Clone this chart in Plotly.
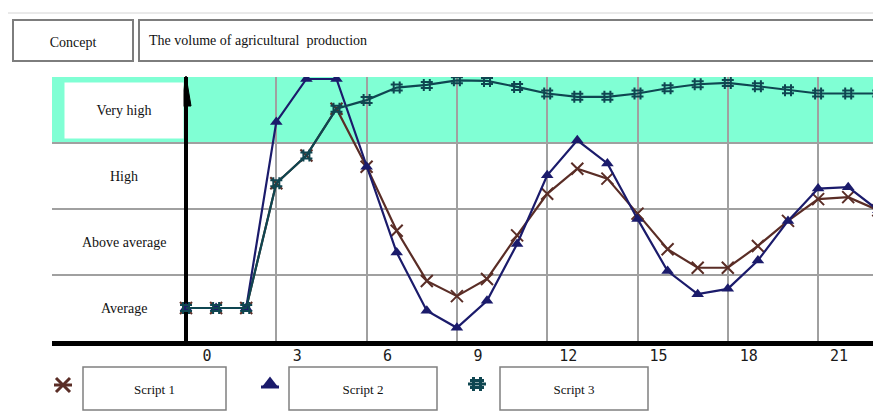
import plotly.graph_objects as go

# ---------------- data ----------------
steps = list(range(24))
script1 = [0.5, 0.5, 0.5, 2.39, 2.81, 3.52, 2.64, 1.67, 0.91, 0.68, 0.94, 1.60,
           2.23, 2.61, 2.46, 1.93, 1.39, 1.11, 1.11, 1.44, 1.82, 2.15, 2.18, 1.98]
script2 = [0.5, 0.5, 0.5, 3.32, 3.97, 3.97, 2.64, 1.34, 0.46, 0.20, 0.61, 1.47,
           2.51, 3.04, 2.69, 1.85, 1.06, 0.71, 0.79, 1.22, 1.82, 2.31, 2.33, 1.98]
script3 = [0.5, 0.5, 0.5, 2.39, 2.81, 3.52, 3.65, 3.84, 3.88, 3.95, 3.94, 3.85,
           3.75, 3.70, 3.70, 3.75, 3.83, 3.89, 3.91, 3.86, 3.80, 3.75, 3.75, 3.75]
x_ticks = [0, 3, 6, 9, 12, 15, 18, 21]
x_tick_labels = ["0", "3", "6", "9", "12", "15", "18", "21"]
levels = ["Average", "Above average", "High", "Very high"]
series_names = ["Script 1", "Script 2", "Script 3"]
concept_label = "Concept"
concept_text = "The volume of agricultural  production"

# ---------------- styling ----------------
OFF = 8                      # page body margin
W, H = 881 - OFF, 419 - OFF
C1 = "#5a2d26"
C2 = "#1b1b6b"
C3 = "#0f4651"
TEAL = "#80ffd4"
SERIF = "Liberation Serif, Times New Roman, serif"


def px(x):
    return (x - OFF) / W


def py(y):
    return 1 - (y - OFF) / H


fig = go.Figure()

specs = [
    (script1, C1, dict(symbol="x-thin-open", size=12, line=dict(width=2, color=C1))),
    (script2, C2, dict(symbol="triangle-up", size=11, line=dict(width=0))),
    (script3, C3, dict(symbol="hash-open", size=12, line=dict(width=2, color=C3))),
]
for name, (vals, col, mk) in zip(series_names, specs):
    fig.add_trace(go.Scatter(
        x=steps, y=vals, mode="lines+markers", name=name,
        line=dict(color=col, width=2.2), marker=dict(color=col, **mk),
        xaxis="x", yaxis="y", showlegend=False,
    ))

# legend keys on an overlay pixel axis
leg_x = [63, 270, 477]
leg_y = [385, 385, 384]
for i, (vals, col, mk) in enumerate(specs):
    fig.add_trace(go.Scatter(
        x=[leg_x[i] - 9, leg_x[i] + 9], y=[leg_y[i] + (2 if i == 1 else 0)] * 2,
        mode="lines", line=dict(color=col, width=3),
        xaxis="x2", yaxis="y2", showlegend=False, hoverinfo="skip",
    ))
    m = dict(color=col, **mk)
    m["size"] = m["size"] + 2
    if m["line"].get("width", 0) > 0:
        m["line"] = dict(width=3, color=col)
    fig.add_trace(go.Scatter(
        x=[leg_x[i]], y=[leg_y[i] - (2 if i == 1 else 0)], mode="markers", marker=m,
        xaxis="x2", yaxis="y2", showlegend=False, hoverinfo="skip",
    ))

shapes = []
# teal "Very high" band
shapes.append(dict(type="rect", xref="x", yref="y", x0=-10, x1=30, y0=3, y1=4,
                   fillcolor=TEAL, line=dict(width=0), layer="below"))
# outer frame
shapes.append(dict(type="line", xref="paper", yref="paper", x0=px(7), x1=px(890),
                   y0=py(13), y1=py(13), line=dict(color="#d4d4d4", width=1)))
shapes.append(dict(type="line", xref="paper", yref="paper", x0=px(7), x1=px(7),
                   y0=py(13), y1=py(430), line=dict(color="#d4d4d4", width=1)))
# header boxes
shapes.append(dict(type="rect", xref="paper", yref="paper", x0=px(13), x1=px(133),
                   y0=py(61), y1=py(20), line=dict(color="#7d7d7d", width=2),
                   fillcolor="white",
                   label=dict(text=concept_label, font=dict(family=SERIF, size=14, color="#111"),
                              textposition="middle center")))
shapes.append(dict(type="rect", xref="paper", yref="paper", x0=px(139), x1=px(895),
                   y0=py(61), y1=py(20), line=dict(color="#7d7d7d", width=2),
                   fillcolor="white"))
# legend boxes
box_x = [(83, 226), (289, 437), (500, 648)]
for (a, b), name in zip(box_x, series_names):
    shapes.append(dict(type="rect", xref="paper", yref="paper", x0=px(a), x1=px(b),
                       y0=py(410), y1=py(367), line=dict(color="#808080", width=1.5),
                       fillcolor="white",
                       label=dict(text=name, font=dict(family=SERIF, size=13, color="#111"),
                                  textposition="middle center")))
# y-axis arrow head
ax0 = 186
shapes.append(dict(type="path", xref="paper", yref="paper",
                   path=f"M {px(ax0-5)} {py(106)} L {px(ax0)} {py(76)} L {px(ax0+5)} {py(106)} Z",
                   fillcolor="black", line=dict(color="black", width=1), layer="above"))

annotations = []
annotations.append(dict(xref="paper", yref="paper", x=px(147), y=py(40), xanchor="left",
                        yanchor="middle", text=concept_text, showarrow=False,
                        font=dict(family=SERIF, size=14, color="#111")))
for i, lab in enumerate(levels):
    a = dict(xref="x", yref="y", x=(124 - 186) / 30.1, y=i + 0.5, text=lab,
             showarrow=False, xanchor="center", yanchor="middle",
             font=dict(family=SERIF, size=14, color="#111"))
    if i == len(levels) - 1:
        a.update(bgcolor="white", width=118, height=55, borderpad=0)
    annotations.append(a)

fig.update_layout(
    width=W, height=H,
    margin=dict(l=0, r=0, t=0, b=0),
    paper_bgcolor="white", plot_bgcolor="rgba(0,0,0,0)",
    xaxis=dict(domain=[px(52), 1], range=[-134 / 30.1, (881 - 186) / 30.1],
               tickvals=x_ticks, ticktext=x_tick_labels, showgrid=True,
               gridcolor="#a0a0a0", gridwidth=1.5, zeroline=True,
               zerolinecolor="black", zerolinewidth=4,
               showline=True, linecolor="black", linewidth=5,
               ticks="", ticklabelshift=21, ticklabelstandoff=-3,
               tickfont=dict(family="DejaVu Sans Mono", size=15, color="#1a1a1a"),
               anchor="y", fixedrange=True),
    yaxis=dict(domain=[py(341), py(77)], range=[0, 4], tickvals=[1, 2, 3],
               showticklabels=False, showgrid=True, gridcolor="#a0a0a0",
               gridwidth=1.5, zeroline=False, showline=False, anchor="x",
               fixedrange=True),
    xaxis2=dict(domain=[0, 1], range=[OFF, OFF + W], visible=False, anchor="y2",
                fixedrange=True),
    yaxis2=dict(domain=[0, 1], range=[OFF + H, OFF], visible=False, anchor="x2",
                fixedrange=True),
    shapes=shapes,
    annotations=annotations,
    showlegend=False,
)

fig.write_html("out.html")
